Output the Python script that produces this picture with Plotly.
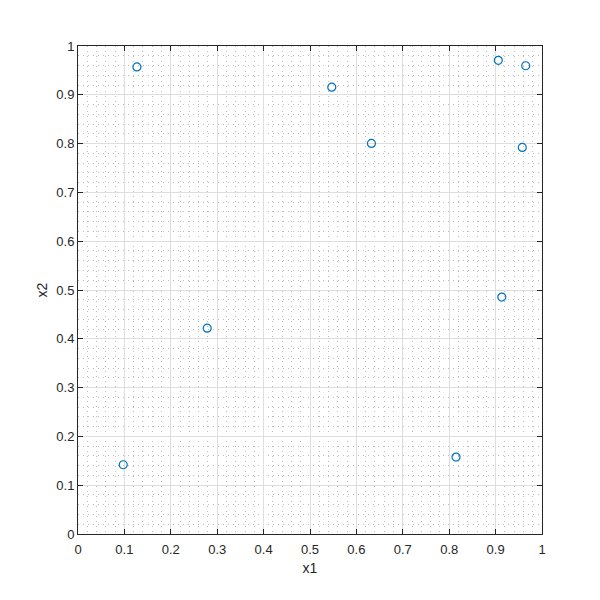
import plotly.graph_objects as go

x1 = [0.8147, 0.9058, 0.1270, 0.9134, 0.6324, 0.0975, 0.2785, 0.5469, 0.9575, 0.9649]
x2 = [0.1576, 0.9706, 0.9572, 0.4854, 0.8003, 0.1419, 0.4218, 0.9157, 0.7922, 0.9595]
tick_vals = [0, 0.1, 0.2, 0.3, 0.4, 0.5, 0.6, 0.7, 0.8, 0.9, 1]
tick_text = ["0", "0.1", "0.2", "0.3", "0.4", "0.5", "0.6", "0.7", "0.8", "0.9", "1"]

FONT = "Liberation Sans, Arial, sans-serif"

fig = go.Figure()
fig.add_trace(go.Scatter(
    x=x1, y=x2, mode="markers",
    marker=dict(symbol="circle-open", size=8, color="#0072BD", line=dict(width=1.2, color="#0072BD")),
    showlegend=False,
))

axis_common = dict(
    range=[0, 1], tickvals=tick_vals, ticktext=tick_text,
    showgrid=True, gridcolor="#dedede", gridwidth=1,
    zeroline=False, showline=True, linecolor="#262626", linewidth=1,
    mirror="ticks", ticks="inside", ticklen=5, tickcolor="#262626", tickwidth=1,
    tickfont=dict(family=FONT, size=13, color="#262626"),
    minor=dict(dtick=0.02, tick0=0, showgrid=True, gridcolor="#bdbdbd", griddash="1px,4px", gridwidth=1, ticks=""),
    fixedrange=True, automargin=False,
)

fig.update_xaxes(**axis_common, ticklabelstandoff=3,
                 title=dict(text="x1", font=dict(family=FONT, size=14, color="#262626"), standoff=7))
fig.update_yaxes(**axis_common,
                 title=dict(text="x2", font=dict(family=FONT, size=14, color="#262626"), standoff=5))

fig.update_layout(
    width=600, height=600,
    margin=dict(l=70, r=66, t=38, b=74),
    paper_bgcolor="white", plot_bgcolor="white",
)

fig.write_html("out.html")
